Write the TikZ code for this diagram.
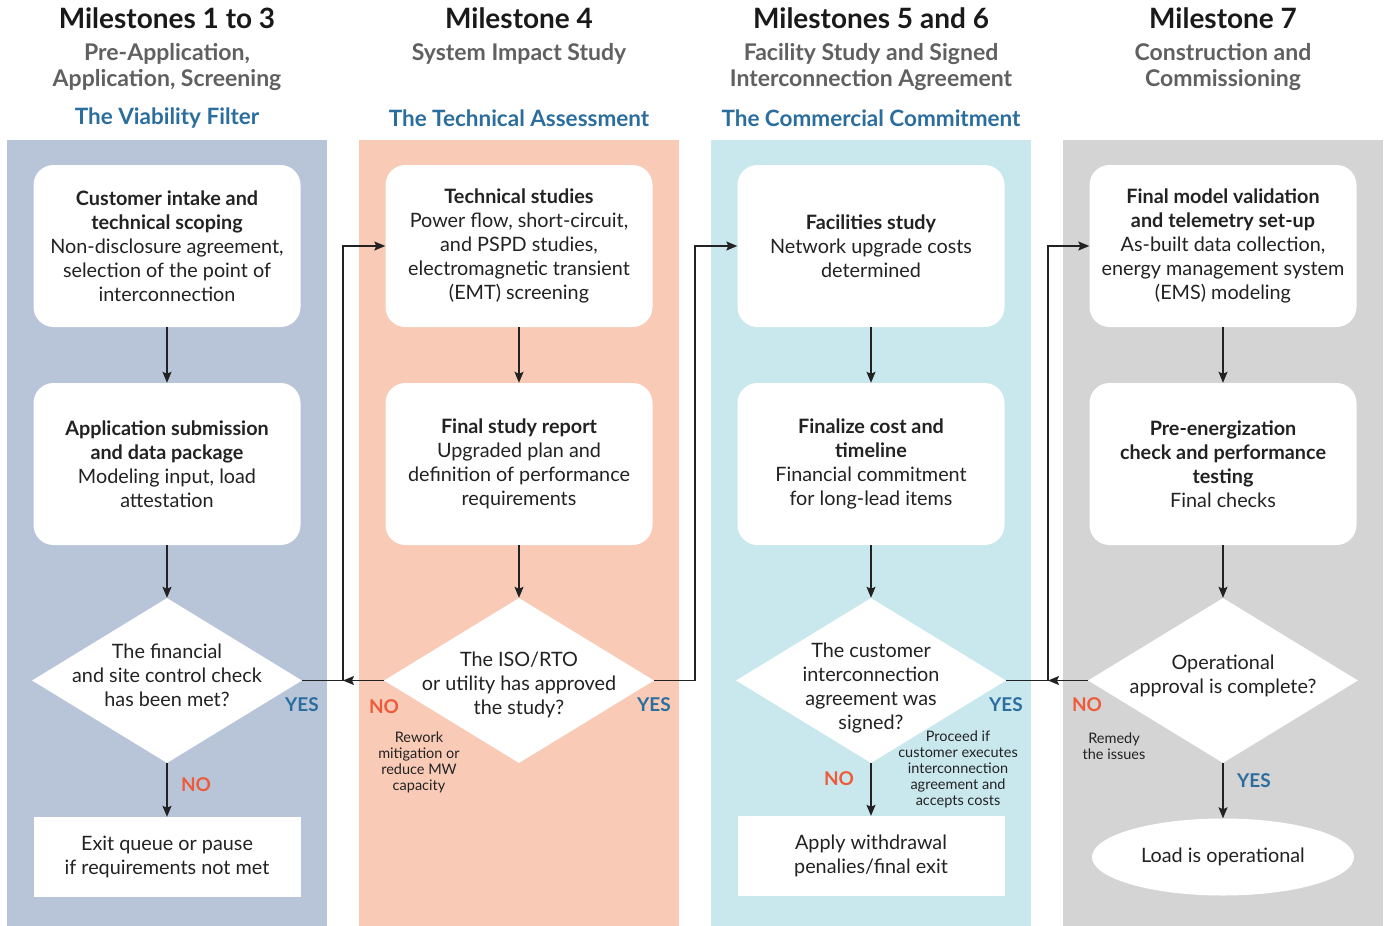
\documentclass[tikz,border=0pt]{standalone}
\usepackage{fontspec}
\setmainfont{Lato}
\usetikzlibrary{shapes.geometric,arrows.meta}

\definecolor{bgone}{HTML}{B8C5D9}
\definecolor{bgtwo}{HTML}{F9CBB7}
\definecolor{bgthree}{HTML}{C9E8EE}
\definecolor{bgfour}{HTML}{D4D4D4}
\definecolor{themeblue}{HTML}{2B6E9E}
\definecolor{noorange}{HTML}{EE5B3B}
\definecolor{subgrey}{HTML}{606060}
\definecolor{inkdark}{HTML}{222222}

\newcommand{\boxfont}{\fontsize{19.8}{24}\selectfont}
\newcommand{\headfont}{\fontsize{28}{30}\selectfont\bfseries}
\newcommand{\subfont}{\fontsize{23}{26}\selectfont\bfseries}
\newcommand{\themefont}{\fontsize{22.5}{26}\selectfont\bfseries}
\newcommand{\tagfont}{\fontsize{19}{22}\selectfont\bfseries}
\newcommand{\notefont}{\fontsize{14.5}{16}\selectfont}

\begin{document}
\begin{tikzpicture}[x=1pt, y=-1pt,
    every node/.style={font=\boxfont, text=inkdark},
    stepbox/.style={fill=white, rounded corners=20pt, minimum width=267pt, minimum height=162pt, align=center, inner sep=0pt},
    decision/.style={diamond, fill=white, minimum width=270pt, minimum height=165pt, inner sep=0pt},
    exitbox/.style={fill=white, minimum width=267pt, minimum height=80pt, align=center, inner sep=0pt},
    endnode/.style={ellipse, fill=white, minimum width=262pt, minimum height=77pt, inner sep=0pt},
    flow/.style={draw=inkdark, line width=1.3pt, -{Stealth[length=11pt, width=9pt, inset=2pt]}},
    head/.style={font=\headfont, text=black!90},
    sub/.style={font=\subfont, text=subgrey, align=center},
    theme/.style={font=\themefont, text=themeblue},
    yes/.style={font=\tagfont, text=themeblue},
    no/.style={font=\tagfont, text=noorange},
    note/.style={font=\notefont, align=center}]
    \useasboundingbox (0,0) rectangle (1385,926);

    % Column backgrounds.
    \fill[bgone]   (7,140)    rectangle (327,926);
    \fill[bgtwo]   (359,140)  rectangle (679,926);
    \fill[bgthree] (711,140)  rectangle (1031,926);
    \fill[bgfour]  (1063,140) rectangle (1383,926);

    % Headings.
    \node[head]  (h1) at (167,18)  {Milestones 1 to 3};
    \node[sub]   (s1) at (167,67)  {Pre-Application,\\Application, Screening};
    \node[theme] (t1) at (167,118) {The Viability Filter};
    \node[head]  (h2) at (519,18)  {Milestone 4};
    \node[sub]   (s2) at (519,54)  {System Impact Study};
    \node[theme] (t2) at (519,118) {The Technical Assessment};
    \node[head]  (h3) at (871,18)  {Milestones 5 and 6};
    \node[sub]   (s3) at (871,67)  {Facility Study and Signed\\Interconnection Agreement};
    \node[theme] (t3) at (871,118) {The Commercial Commitment};
    \node[head]  (h4) at (1223,18) {Milestone 7};
    \node[sub]   (s4) at (1223,67) {Construction and\\Commissioning};

    % Milestones 1 to 3.
    \node[stepbox]  (b11) at (167,246) {\textbf{Customer intake and}\\\textbf{technical scoping}\\Non-disclosure agreement,\\selection of the point of\\interconnection};
    \node[stepbox]  (b12) at (167,464) {\textbf{Application submission}\\\textbf{and data package}\\Modeling input, load\\attestation};
    \node[decision] (d1)  at (167,680.5) [label={[align=center, font=\boxfont, yshift=5pt]center:{The financial\\and site control check\\has been met?}}] {};
    \node[exitbox]  (x1)  at (167,857) {Exit queue or pause\\if requirements not met};

    % Milestone 4.
    \node[stepbox]  (b21) at (519,246) {\textbf{Technical studies}\\Power flow, short-circuit,\\and PSPD studies,\\electromagnetic transient\\(EMT) screening};
    \node[stepbox]  (b22) at (519,464) {\textbf{Final study report}\\Upgraded plan and\\definition of performance\\requirements};
    \node[decision] (d2)  at (519,680.5) [label={[align=center, font=\boxfont, yshift=-4pt]center:{The ISO/RTO\\or utility has approved\\the study?}}] {};

    % Milestones 5 and 6.
    \node[stepbox]  (b31) at (871,246) {\textbf{Facilities study}\\Network upgrade costs\\determined};
    \node[stepbox]  (b32) at (871,464) {\textbf{Finalize cost and}\\\textbf{timeline}\\Financial commitment\\for long-lead items};
    \node[decision] (d3)  at (871,680.5) [label={[align=center, font=\boxfont, yshift=-8pt]center:{The customer\\interconnection\\agreement was\\signed?}}] {};
    \node[exitbox]  (x3)  at (871,856) {Apply withdrawal\\penalies/final exit};

    % Milestone 7.
    \node[stepbox]  (b41) at (1223,246) {\textbf{Final model validation}\\\textbf{and telemetry set-up}\\As-built data collection,\\energy management system\\(EMS) modeling};
    \node[stepbox]  (b42) at (1223,464) {\textbf{Pre-energization}\\\textbf{check and performance}\\\textbf{testing}\\Final checks};
    \node[decision] (d4)  at (1223,680.5) [label={[align=center, font=\boxfont, yshift=5pt]center:{Operational\\approval is complete?}}] {};
    \node[endnode]  (e4)  at (1223,857) {Load is operational};

    % Answers and notes.
    \node[yes]  (y1) at (302,705)  {YES};
    \node[no]   (n1) at (196,785)  {NO};
    \node[no]   (n2) at (384,707)  {NO};
    \node[yes]  (y2) at (654,705)  {YES};
    \node[note] (r2) at (419,762)  {Rework\\mitigation or\\reduce MW\\capacity};
    \node[yes]  (y3) at (1006,705) {YES};
    \node[no]   (n3) at (839,779)  {NO};
    \node[note] (r3) at (958,769)  {Proceed if\\customer executes\\interconnection\\agreement and\\accepts costs};
    \node[no]   (n4) at (1087,705) {NO};
    \node[note] (r4) at (1114,746) {Remedy\\the issues};
    \node[yes]  (y4) at (1254,781) {YES};

    % Arrows down each column.
    \draw[flow] (b11) -- (b12);
    \draw[flow] (b12) -- (d1);
    \draw[flow] (d1)  -- (x1);
    \draw[flow] (b21) -- (b22);
    \draw[flow] (b22) -- (d2);
    \draw[flow] (b31) -- (b32);
    \draw[flow] (b32) -- (d3);
    \draw[flow] (d3)  -- (x3);
    \draw[flow] (b41) -- (b42);
    \draw[flow] (b42) -- (d4);
    \draw[flow] (d4)  -- (e4);

    % Arrows between columns.
    \coordinate (j1) at (343,680.5);
    \coordinate (j2) at (695,680.5);
    \coordinate (j3) at (1048,680.5);
    \draw[flow] (d1.east) -- (j1) |- (b21.west);
    \draw[flow] (d2.west) -- (j1);
    \draw[flow] (d2.east) -- (j2) |- (b31.west);
    \draw[flow] (d3.east) -- (j3) |- (b41.west);
    \draw[flow] (d4.west) -- (j3);

\end{tikzpicture}
\end{document}
